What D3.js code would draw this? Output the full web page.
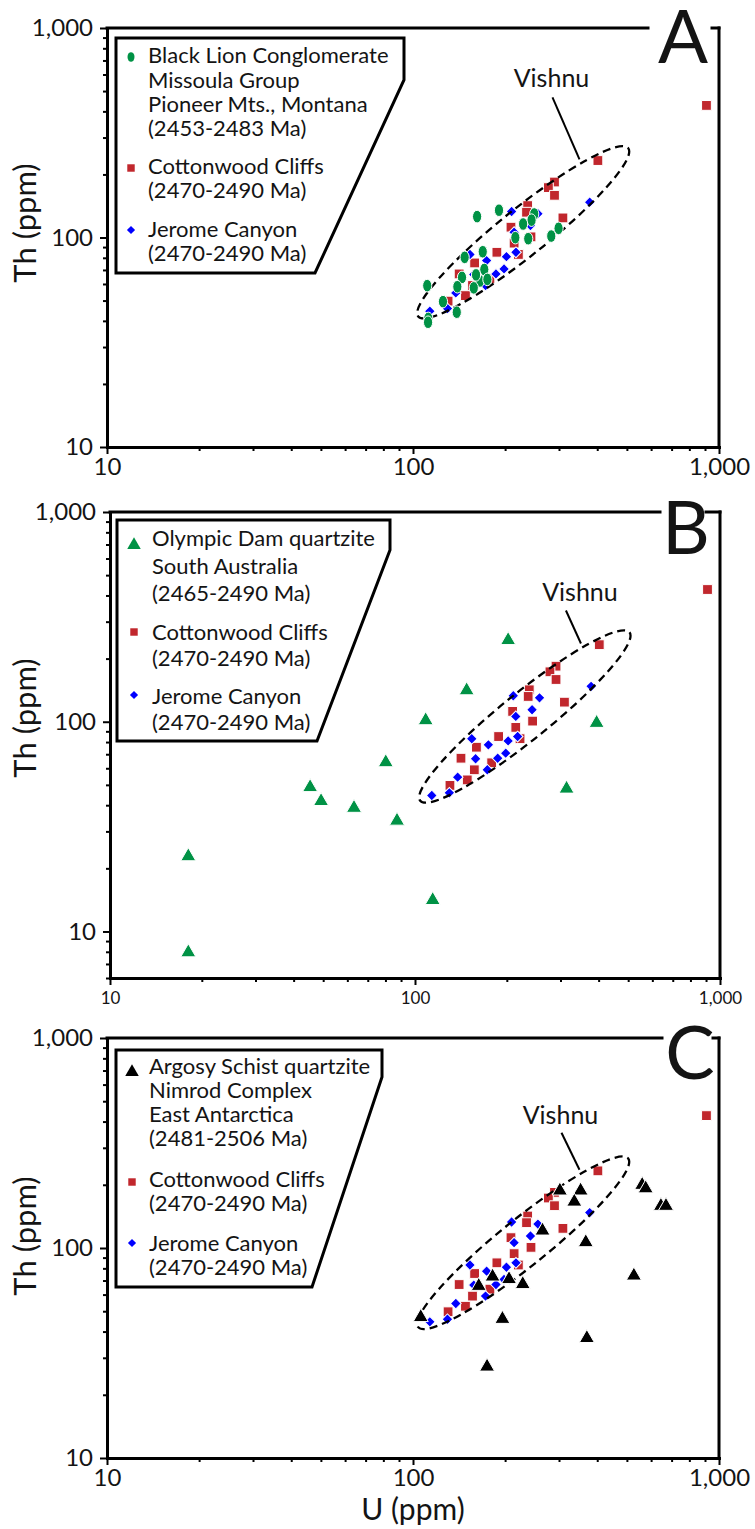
<!DOCTYPE html>
<html>
<head>
<meta charset="utf-8">
<script src="https://cdn.jsdelivr.net/npm/d3@7"></script>
<style>
  html, body { margin: 0; padding: 0; background: #fff; }
  svg { display: block; }
  text { font-family: Lato, "Open Sans", sans-serif; fill: #141414; }
</style>
</head>
<body>
<svg id="chart" width="755" height="1529"></svg>
<script>
// ---------- data: U (ppm) and Th (ppm) of detrital zircon sources ----------
const cottonwoodU  = [910, 402, 290, 277, 290, 237, 235, 309, 243, 209, 214, 188, 159, 141.5, 156.5, 148.4, 130.2, 178.4, 221];
const cottonwoodTh = [427, 233, 184, 173, 159, 142, 132, 124, 100.7, 112, 94, 85, 75.6, 67, 59, 52.8, 49.7, 63.7, 83];

const jeromeU  = [378, 210, 256, 242, 214, 217, 202, 174, 153.5, 198.4, 186.7, 158, 172.6, 138, 129.6, 113.5];
const jeromeTh = [147.5, 133, 130, 114, 106, 85, 81, 77.6, 83, 70.8, 67, 66.6, 59, 54.4, 45.8, 44.5];

const blackLionU  = [162, 191, 249, 244, 229, 238, 216, 299, 283, 169, 147.5, 171, 144.6, 165.5, 175, 158, 139.6, 111.3, 125.3, 139, 112.2, 112, 160.7];
const blackLionTh = [125.8, 135, 129.5, 121, 116, 98.7, 99.8, 110.6, 101.6, 85.5, 80.4, 70.4, 64.5, 62, 63.1, 57.5, 58.2, 58.9, 49.4, 44, 41.1, 39.4, 66.3];

const olympicDamU  = [202, 147.7, 108.4, 80.2, 87.3, 394, 314, 114.3, 18.06, 18.06, 45.3, 49.2, 63.1];
const olympicDamTh = [244.7, 141, 101.5, 64, 33.7, 98.6, 47.9, 14.1, 22.8, 7.94, 48.7, 41.8, 38.8];

const argosyU  = [302, 353, 336.6, 561, 576, 646, 671, 265, 367, 527, 164, 182, 206, 228.4, 106, 196, 370, 174.6];
const argosyTh = [187.5, 187.5, 166, 199.5, 192, 158.5, 158.5, 120.9, 106.4, 73.8, 65.9, 73, 71, 67.2, 46.8, 45.9, 37.2, 27.2];

// Vishnu field: ends of the major axis (U, Th) and the point the label points to
const vishnuEnds = [[104, 42], [505, 267]];
const vishnuPointer = [350, 236];

// axis ticks
const majorTicks = [10, 100, 1000];
const tickLabels = ["10", "100", "1,000"];

// legend texts
const blackLionLegend  = ["Black Lion Conglomerate", "Missoula Group", "Pioneer Mts., Montana", "(2453-2483 Ma)"];
const olympicDamLegend = ["Olympic Dam quartzite", "South Australia", "(2465-2490 Ma)"];
const argosyLegend     = ["Argosy Schist quartzite", "Nimrod Complex", "East Antarctica", "(2481-2506 Ma)"];
const cottonwoodLegend = ["Cottonwood Cliffs", "(2470-2490 Ma)"];
const jeromeLegend     = ["Jerome Canyon", "(2470-2490 Ma)"];

// ---------- styling ----------
const GREEN = "#009245", RED = "#c1272d", BLUE = "#0000ff", BLACK = "#000000";
const pairs = (us, ths) => us.map((u, i) => ({ u, th: ths[i] }));

const cottonwood = pairs(cottonwoodU, cottonwoodTh);
const jerome = pairs(jeromeU, jeromeTh);

const panels = [
  {
    letter: "A", xRange: [107, 719], yRange: [447, 28], yDomain: [10, 1000],
    xLabelSize: 24, xLabelPad: 4, letterPos: [683, 63], gap: [648, 712], yTitleY: 223,
    feature: { data: pairs(blackLionU, blackLionTh), shape: "ellipse", color: GREEN },
    box: [[116, 38], [404, 38], [404, 80], [315, 273], [116, 273]],
    legendX: 148, markerX: 131,
    legend: [
      { shape: "ellipse", color: GREEN, lines: blackLionLegend, base: [63, 88, 112, 136], my: 57 },
      { shape: "square", color: RED, lines: cottonwoodLegend, base: [174, 198], my: 168 },
      { shape: "diamond", color: BLUE, lines: jeromeLegend, base: [237, 261], my: 230 }
    ],
    vishnuText: [-28, -72], vishnuLead: [-27, -62]
  },
  {
    letter: "B", xRange: [110, 720], yRange: [978, 512], yDomain: [6, 1000],
    xLabelSize: 17, xLabelPad: 7, letterPos: [686, 554], gap: [660, 706], yTitleY: 718,
    feature: { data: pairs(olympicDamU, olympicDamTh), shape: "triangle", color: GREEN },
    box: [[117, 520], [390, 520], [390, 550], [317, 741], [117, 741]],
    legendX: 152, markerX: 134,
    legend: [
      { shape: "triangle", color: GREEN, lines: olympicDamLegend, base: [546, 574, 601], my: 545 },
      { shape: "square", color: RED, lines: cottonwoodLegend, base: [640, 666], my: 632 },
      { shape: "diamond", color: BLUE, lines: jeromeLegend, base: [704, 730], my: 695 }
    ],
    vishnuText: [-1, -43], vishnuLead: [-15, -33]
  },
  {
    letter: "C", xRange: [107, 719], yRange: [1458, 1038], yDomain: [10, 1000],
    xLabelSize: 24, xLabelPad: 4, letterPos: [690, 1079], gap: [662, 713], yTitleY: 1236,
    feature: { data: pairs(argosyU, argosyTh), shape: "triangle", color: BLACK },
    box: [[116, 1050], [382, 1050], [382, 1077], [312, 1287], [116, 1287]],
    legendX: 149, markerX: 132,
    legend: [
      { shape: "triangle", color: BLACK, lines: argosyLegend, base: [1074, 1098, 1122, 1146], my: 1072 },
      { shape: "square", color: RED, lines: cottonwoodLegend, base: [1187, 1211], my: 1182 },
      { shape: "diamond", color: BLUE, lines: jeromeLegend, base: [1251, 1275], my: 1243 }
    ],
    vishnuText: [-19, -46], vishnuLead: [-18, -37],
    xTitle: "U (ppm)"
  }
];

const svg = d3.select("#chart");

function logTicks(domain) {
  const out = [];
  for (let d = 1; d <= 1000; d *= 10)
    for (let k = 1; k <= 9; k++) {
      const v = k * d;
      if (v >= domain[0] - 1e-9 && v <= domain[1] + 1e-9) out.push(v);
    }
  return out;
}

// draw a marker of the given shape into selection sel (already positioned)
function marker(sel, shape, color, scale) {
  const s = scale || 1;
  let m;
  if (shape === "ellipse") {
    m = sel.append("ellipse").attr("rx", 4.6 * s).attr("ry", 6.3 * s);
  } else if (shape === "square") {
    m = sel.append("path").attr("d", d3.symbol(d3.symbolSquare, 96 * s * s)());
  } else if (shape === "diamond") {
    m = sel.append("path").attr("d", d3.symbol(d3.symbolSquare, 58 * s * s)()).attr("transform", "rotate(45)");
  } else {
    m = sel.append("path").attr("d", d3.symbol(d3.symbolTriangle, 98 * s * s)());
  }
  return m.attr("fill", color);
}

function drawSeries(g, data, shape, color, x, y, haloWidth) {
  g.append("g").selectAll("g").data(data).join("g")
    .attr("transform", d => `translate(${x(d.u)},${y(d.th)})`)
    .each(function () {
      marker(d3.select(this), shape, color).attr("stroke", "#fff").attr("stroke-width", haloWidth);
    });
}

panels.forEach(p => {
  const g = svg.append("g");
  const x = d3.scaleLog().domain([10, 1000]).range(p.xRange);
  const y = d3.scaleLog().domain(p.yDomain).range(p.yRange);
  const [x0, x1] = p.xRange;
  const [yb, yt] = p.yRange;

  // ---- axes ----
  const yMinor = logTicks(p.yDomain).filter(v => !majorTicks.includes(v));
  const xMinor = logTicks([10, 1000]).filter(v => !majorTicks.includes(v));
  const fmt = v => tickLabels[majorTicks.indexOf(v)];

  const yMin = g.append("g").attr("transform", `translate(${x0},0)`)
    .call(d3.axisLeft(y).tickValues(yMinor).tickSize(4).tickFormat("").tickSizeOuter(0));
  yMin.select(".domain").remove();
  const yMaj = g.append("g").attr("transform", `translate(${x0},0)`)
    .call(d3.axisLeft(y).tickValues(majorTicks).tickSize(7).tickPadding(7).tickFormat(fmt).tickSizeOuter(0));
  yMaj.selectAll("text").attr("font-size", 24);

  const xMin = g.append("g").attr("transform", `translate(0,${yb})`)
    .call(d3.axisBottom(x).tickValues(xMinor).tickSize(4).tickFormat("").tickSizeOuter(0));
  xMin.select(".domain").remove();
  const xMaj = g.append("g").attr("transform", `translate(0,${yb})`)
    .call(d3.axisBottom(x).tickValues(majorTicks).tickSize(7).tickPadding(p.xLabelPad).tickFormat(fmt).tickSizeOuter(0));
  xMaj.selectAll("text").attr("font-size", p.xLabelSize);

  [yMin, yMaj, xMin, xMaj].forEach(a => {
    a.attr("font-family", null).attr("font-size", null);
    a.selectAll(".tick line").attr("stroke", "#000").attr("stroke-width", 2);
    a.selectAll(".domain").attr("stroke", "#000").attr("stroke-width", 3).attr("stroke-linecap", "square");
    a.selectAll("text").attr("fill", "#141414");
  });

  // frame: right side and top with a break for the panel letter
  g.append("line").attr("x1", x1).attr("x2", x1).attr("y1", yt).attr("y2", yb)
    .attr("stroke", "#000").attr("stroke-width", 3).attr("stroke-linecap", "square");
  g.append("line").attr("x1", x0).attr("x2", p.gap[0]).attr("y1", yt).attr("y2", yt)
    .attr("stroke", "#000").attr("stroke-width", 3).attr("stroke-linecap", "square");
  g.append("line").attr("x1", p.gap[1]).attr("x2", x1).attr("y1", yt).attr("y2", yt)
    .attr("stroke", "#000").attr("stroke-width", 3).attr("stroke-linecap", "square");
  g.append("text").attr("x", p.letterPos[0]).attr("y", p.letterPos[1])
    .attr("text-anchor", "middle").attr("font-size", 74).text(p.letter);

  // axis titles
  g.append("text").attr("transform", `translate(36,${p.yTitleY}) rotate(-90)`)
    .attr("text-anchor", "middle").attr("font-size", 31).text("Th (ppm)");
  if (p.xTitle) {
    g.append("text").attr("x", x(100)).attr("y", 1520)
      .attr("text-anchor", "middle").attr("font-size", 30).text(p.xTitle);
  }

  // ---- data ----
  drawSeries(g, cottonwood, "square", RED, x, y, 1);
  drawSeries(g, jerome, "diamond", BLUE, x, y, 1);

  // Vishnu field outline
  const e1 = [x(vishnuEnds[0][0]), y(vishnuEnds[0][1])];
  const e2 = [x(vishnuEnds[1][0]), y(vishnuEnds[1][1])];
  const cx = (e1[0] + e2[0]) / 2, cy = (e1[1] + e2[1]) / 2;
  const ang = Math.atan2(e2[1] - e1[1], e2[0] - e1[0]) * 180 / Math.PI;
  const semiMajor = Math.hypot(e2[0] - e1[0], e2[1] - e1[1]) / 2;
  g.append("ellipse").attr("transform", `translate(${cx},${cy}) rotate(${ang})`)
    .attr("rx", semiMajor).attr("ry", 23.5)
    .attr("fill", "none").attr("stroke", "#000").attr("stroke-width", 2.3)
    .attr("stroke-dasharray", "8,5");

  drawSeries(g, p.feature.data, p.feature.shape, p.feature.color, x, y, 1);

  // Vishnu label and leader
  const px = x(vishnuPointer[0]), py = y(vishnuPointer[1]);
  g.append("line").attr("x1", px + p.vishnuLead[0]).attr("y1", py + p.vishnuLead[1])
    .attr("x2", px).attr("y2", py).attr("stroke", "#000").attr("stroke-width", 2);
  g.append("text").attr("x", px + p.vishnuText[0]).attr("y", py + p.vishnuText[1])
    .attr("text-anchor", "middle").attr("font-size", 25).text("Vishnu");

  // ---- legend ----
  g.append("polygon").attr("points", p.box.map(d => d.join(",")).join(" "))
    .attr("fill", "#fff").attr("stroke", "#000").attr("stroke-width", 3);
  p.legend.forEach(item => {
    const mg = g.append("g").attr("transform", `translate(${p.markerX},${item.my})`);
    marker(mg, item.shape, item.color, item.shape === "triangle" ? 0.9 : 0.76);
    item.lines.forEach((t, i) => {
      g.append("text").attr("x", p.legendX).attr("y", item.base[i])
        .attr("font-size", 22).text(t);
    });
  });
});
</script>
</body>
</html>
